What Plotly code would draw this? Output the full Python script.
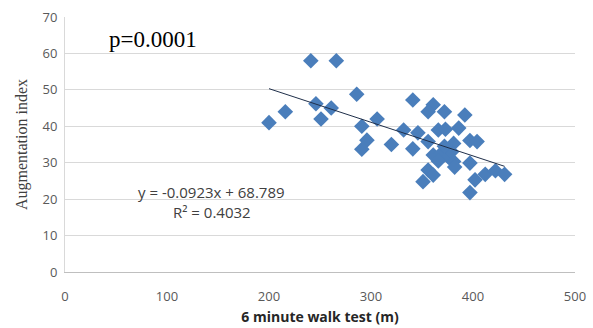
import plotly.graph_objects as go

walk_m = [200, 216, 241, 266, 246, 261, 251, 286, 341, 361, 356, 372, 392, 306, 291,
          332, 346, 366, 373, 386, 296, 291, 320, 341, 356, 381, 397, 404, 361, 369,
          376, 379, 381, 382, 397, 356, 361, 351, 402, 397, 412, 422, 431, 366, 372]
aug_index = [41, 44, 58, 58, 46.2, 45, 42, 48.8, 47.2, 45.9, 44, 44, 43.1, 42, 40,
             39, 38.2, 39, 39.2, 39.5, 36.2, 33.7, 35, 33.8, 35.8, 35.3, 36.1, 35.8, 32.1, 32.6,
             31.5, 33, 30.3, 28.8, 29.9, 28, 26.6, 24.8, 25.3, 21.8, 26.8, 27.8, 26.8, 30.5, 34.5]
slope = -0.0923
intercept = 68.789
x_ticks = [0, 100, 200, 300, 400, 500]
y_ticks = [0, 10, 20, 30, 40, 50, 60, 70]

x_line = [min(walk_m), max(walk_m)]
y_line = [slope * v + intercept for v in x_line]

fig = go.Figure()
fig.add_trace(go.Scatter(
    x=walk_m, y=aug_index, mode="markers",
    marker=dict(symbol="diamond", size=12, color="#4a7ebb", line=dict(width=0)),
    showlegend=False, hoverinfo="skip"))
fig.add_trace(go.Scatter(
    x=x_line, y=y_line, mode="lines",
    line=dict(color="#1f2f4a", width=1), showlegend=False, hoverinfo="skip"))

fig.add_annotation(x=0.082, y=0.91, xref="paper", yref="paper", xanchor="left", yanchor="middle",
                   text="p=0.0001", showarrow=False,
                   font=dict(family="Liberation Serif, Times New Roman, serif", size=23, color="#000000"))
fig.add_annotation(x=0.139, y=0.313, xref="paper", yref="paper", xanchor="left", yanchor="middle",
                   text="y = -0.0923x + 68.789", showarrow=False,
                   font=dict(family="Open Sans, Liberation Sans, sans-serif", size=15, color="#404040"))
fig.add_annotation(x=0.207, y=0.235, xref="paper", yref="paper", xanchor="left", yanchor="middle",
                   text="R² = 0.4032", showarrow=False,
                   font=dict(family="Open Sans, Liberation Sans, sans-serif", size=15, color="#404040"))

fig.update_layout(
    width=593, height=328,
    margin=dict(l=65, r=18, t=17, b=56),
    paper_bgcolor="white", plot_bgcolor="white",
    xaxis=dict(range=[0, 500], tickvals=x_ticks, showgrid=False, zeroline=False,
               showline=True, linecolor="#bfbfbf", linewidth=1, ticks="",
               ticklabelstandoff=12, automargin=False,
               tickfont=dict(family="Open Sans, Liberation Sans, sans-serif", size=13, color="#595959"),
               title=dict(text="<b>6 minute walk test (m)</b>", standoff=8,
                          font=dict(family="Open Sans, Liberation Sans, sans-serif", size=14, color="#262626"))),
    yaxis=dict(range=[0, 70], tickvals=y_ticks, showgrid=True, gridcolor="#d9d9d9", gridwidth=1,
               zeroline=False, showline=True, linecolor="#d9d9d9", linewidth=1, ticks="",
               ticklabelstandoff=4, automargin=False,
               tickfont=dict(family="Open Sans, Liberation Sans, sans-serif", size=13, color="#595959"),
               title=dict(text="Augmentation index", standoff=10,
                          font=dict(family="Liberation Serif, Times New Roman, serif", size=16, color="#404040"))),
)

fig.write_html("out.html")
